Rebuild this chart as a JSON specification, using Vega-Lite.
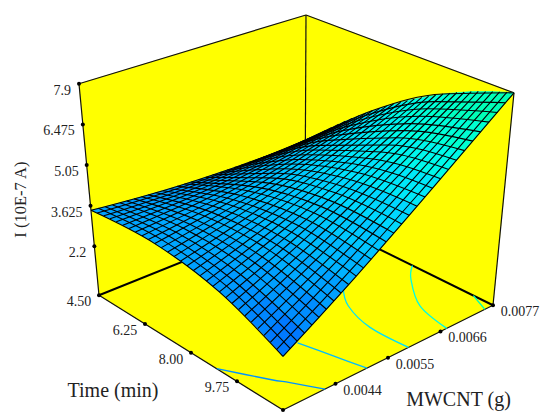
{"$schema":"https://vega.github.io/schema/vega-lite/v6.json","width":540,"height":413,"padding":0,"autosize":{"type":"fit","contains":"padding"},"background":"white","config":{"view":{"stroke":null}},
"datasets":{"cells":[
{"t":4.5,"m":0.0033,"I":[3.46,3.54,3.52,3.38]},{"t":5.2,"m":0.0033,"I":[3.54,3.58,3.61,3.52]},{"t":5.9,"m":0.0033,"I":[3.58,3.57,3.65,3.61]},{"t":6.6,"m":0.0033,"I":[3.57,3.51,3.65,3.65]},{"t":7.3,"m":0.0033,"I":[3.51,3.41,3.6,3.65]},{"t":8,"m":0.0033,"I":[3.41,3.26,3.5,3.6]},{"t":8.7,"m":0.0033,"I":[3.26,3.07,3.36,3.5]},{"t":9.4,"m":0.0033,"I":[3.07,2.83,3.17,3.36]},{"t":10.1,"m":0.0033,"I":[2.83,2.55,2.93,3.17]},{"t":10.8,"m":0.0033,"I":[2.55,2.22,2.65,2.93]},
{"t":4.5,"m":0.00374,"I":[3.38,3.52,3.51,3.32]},{"t":5.2,"m":0.00374,"I":[3.52,3.61,3.65,3.51]},{"t":5.9,"m":0.00374,"I":[3.61,3.65,3.75,3.65]},{"t":6.6,"m":0.00374,"I":[3.65,3.65,3.8,3.75]},{"t":7.3,"m":0.00374,"I":[3.65,3.6,3.8,3.8]},{"t":8,"m":0.00374,"I":[3.6,3.5,3.76,3.8]},{"t":8.7,"m":0.00374,"I":[3.5,3.36,3.67,3.76]},{"t":9.4,"m":0.00374,"I":[3.36,3.17,3.53,3.67]},{"t":10.1,"m":0.00374,"I":[3.17,2.93,3.34,3.53]},{"t":10.8,"m":0.00374,"I":[2.93,2.65,3.11,3.34]},
{"t":4.5,"m":0.00418,"I":[3.32,3.51,3.51,3.26]},{"t":5.2,"m":0.00418,"I":[3.51,3.65,3.71,3.51]},{"t":5.9,"m":0.00418,"I":[3.65,3.75,3.87,3.71]},{"t":6.6,"m":0.00418,"I":[3.75,3.8,3.97,3.87]},{"t":7.3,"m":0.00418,"I":[3.8,3.8,4.03,3.97]},{"t":8,"m":0.00418,"I":[3.8,3.76,4.04,4.03]},{"t":8.7,"m":0.00418,"I":[3.76,3.67,4.01,4.04]},{"t":9.4,"m":0.00418,"I":[3.67,3.53,3.92,4.01]},{"t":10.1,"m":0.00418,"I":[3.53,3.34,3.78,3.92]},{"t":10.8,"m":0.00418,"I":[3.34,3.11,3.6,3.78]},
{"t":4.5,"m":0.00462,"I":[3.26,3.51,3.52,3.21]},{"t":5.2,"m":0.00462,"I":[3.51,3.71,3.79,3.52]},{"t":5.9,"m":0.00462,"I":[3.71,3.87,4,3.79]},{"t":6.6,"m":0.00462,"I":[3.87,3.97,4.17,4]},{"t":7.3,"m":0.00462,"I":[3.97,4.03,4.28,4.17]},{"t":8,"m":0.00462,"I":[4.03,4.04,4.35,4.28]},{"t":8.7,"m":0.00462,"I":[4.04,4.01,4.37,4.35]},{"t":9.4,"m":0.00462,"I":[4.01,3.92,4.33,4.37]},{"t":10.1,"m":0.00462,"I":[3.92,3.78,4.25,4.33]},{"t":10.8,"m":0.00462,"I":[3.78,3.6,4.12,4.25]},
{"t":4.5,"m":0.00506,"I":[3.21,3.52,3.55,3.17]},{"t":5.2,"m":0.00506,"I":[3.52,3.79,3.88,3.55]},{"t":5.9,"m":0.00506,"I":[3.79,4,4.15,3.88]},{"t":6.6,"m":0.00506,"I":[4,4.17,4.38,4.15]},{"t":7.3,"m":0.00506,"I":[4.17,4.28,4.55,4.38]},{"t":8,"m":0.00506,"I":[4.28,4.35,4.68,4.55]},{"t":8.7,"m":0.00506,"I":[4.35,4.37,4.75,4.68]},{"t":9.4,"m":0.00506,"I":[4.37,4.33,4.78,4.75]},{"t":10.1,"m":0.00506,"I":[4.33,4.25,4.75,4.78]},{"t":10.8,"m":0.00506,"I":[4.25,4.12,4.67,4.75]},
{"t":4.5,"m":0.0055,"I":[3.17,3.55,3.59,3.15]},{"t":5.2,"m":0.0055,"I":[3.55,3.88,3.98,3.59]},{"t":5.9,"m":0.0055,"I":[3.88,4.15,4.32,3.98]},{"t":6.6,"m":0.0055,"I":[4.15,4.38,4.61,4.32]},{"t":7.3,"m":0.0055,"I":[4.38,4.55,4.84,4.61]},{"t":8,"m":0.0055,"I":[4.55,4.68,5.03,4.84]},{"t":8.7,"m":0.0055,"I":[4.68,4.75,5.16,5.03]},{"t":9.4,"m":0.0055,"I":[4.75,4.78,5.25,5.16]},{"t":10.1,"m":0.0055,"I":[4.78,4.75,5.28,5.25]},{"t":10.8,"m":0.0055,"I":[4.75,4.67,5.26,5.28]},
{"t":4.5,"m":0.00594,"I":[3.15,3.59,3.64,3.13]},{"t":5.2,"m":0.00594,"I":[3.59,3.98,4.1,3.64]},{"t":5.9,"m":0.00594,"I":[3.98,4.32,4.5,4.1]},{"t":6.6,"m":0.00594,"I":[4.32,4.61,4.86,4.5]},{"t":7.3,"m":0.00594,"I":[4.61,4.84,5.16,4.86]},{"t":8,"m":0.00594,"I":[4.84,5.03,5.4,5.16]},{"t":8.7,"m":0.00594,"I":[5.03,5.16,5.6,5.4]},{"t":9.4,"m":0.00594,"I":[5.16,5.25,5.74,5.6]},{"t":10.1,"m":0.00594,"I":[5.25,5.28,5.83,5.74]},{"t":10.8,"m":0.00594,"I":[5.28,5.26,5.87,5.83]},
{"t":4.5,"m":0.00638,"I":[3.13,3.64,3.71,3.13]},{"t":5.2,"m":0.00638,"I":[3.64,4.1,4.23,3.71]},{"t":5.9,"m":0.00638,"I":[4.1,4.5,4.7,4.23]},{"t":6.6,"m":0.00638,"I":[4.5,4.86,5.12,4.7]},{"t":7.3,"m":0.00638,"I":[4.86,5.16,5.49,5.12]},{"t":8,"m":0.00638,"I":[5.16,5.4,5.8,5.49]},{"t":8.7,"m":0.00638,"I":[5.4,5.6,6.06,5.8]},{"t":9.4,"m":0.00638,"I":[5.6,5.74,6.26,6.06]},{"t":10.1,"m":0.00638,"I":[5.74,5.83,6.42,6.26]},{"t":10.8,"m":0.00638,"I":[5.83,5.87,6.52,6.42]},
{"t":4.5,"m":0.00682,"I":[3.13,3.71,3.79,3.14]},{"t":5.2,"m":0.00682,"I":[3.71,4.23,4.38,3.79]},{"t":5.9,"m":0.00682,"I":[4.23,4.7,4.92,4.38]},{"t":6.6,"m":0.00682,"I":[4.7,5.12,5.41,4.92]},{"t":7.3,"m":0.00682,"I":[5.12,5.49,5.84,5.41]},{"t":8,"m":0.00682,"I":[5.49,5.8,6.22,5.84]},{"t":8.7,"m":0.00682,"I":[5.8,6.06,6.54,6.22]},{"t":9.4,"m":0.00682,"I":[6.06,6.26,6.81,6.54]},{"t":10.1,"m":0.00682,"I":[6.26,6.42,7.03,6.81]},{"t":10.8,"m":0.00682,"I":[6.42,6.52,7.19,7.03]},
{"t":4.5,"m":0.00726,"I":[3.14,3.79,3.87,3.15]},{"t":5.2,"m":0.00726,"I":[3.79,4.38,4.54,3.87]},{"t":5.9,"m":0.00726,"I":[4.38,4.92,5.15,4.54]},{"t":6.6,"m":0.00726,"I":[4.92,5.41,5.71,5.15]},{"t":7.3,"m":0.00726,"I":[5.41,5.84,6.21,5.71]},{"t":8,"m":0.00726,"I":[5.84,6.22,6.66,6.21]},{"t":8.7,"m":0.00726,"I":[6.22,6.54,7.05,6.66]},{"t":9.4,"m":0.00726,"I":[6.54,6.81,7.39,7.05]},{"t":10.1,"m":0.00726,"I":[6.81,7.03,7.67,7.39]},{"t":10.8,"m":0.00726,"I":[7.03,7.19,7.9,7.67]}
],
"rows":[
{"s":"w","k":1,"o":0,"t":4.5,"m":0.0033,"I":0.48},{"s":"w","k":1,"o":1,"t":11.5,"m":0.0033,"I":0.48},{"s":"w","k":1,"o":2,"t":11.5,"m":0.0077,"I":0.48},{"s":"w","k":1,"o":3,"t":4.5,"m":0.0077,"I":0.48},
{"s":"w","k":2,"o":0,"t":4.5,"m":0.0033,"I":0.48},{"s":"w","k":2,"o":1,"t":4.5,"m":0.0077,"I":0.48},{"s":"w","k":2,"o":2,"t":4.5,"m":0.0077,"I":7.9},{"s":"w","k":2,"o":3,"t":4.5,"m":0.0033,"I":7.9},
{"s":"w","k":3,"o":0,"t":4.5,"m":0.0077,"I":0.48},{"s":"w","k":3,"o":1,"t":11.5,"m":0.0077,"I":0.48},{"s":"w","k":3,"o":2,"t":11.5,"m":0.0077,"I":7.9},{"s":"w","k":3,"o":3,"t":4.5,"m":0.0077,"I":7.9},
{"s":"e","k":1,"o":0,"t":4.5,"m":0.0033,"I":7.9},{"s":"e","k":1,"o":1,"t":4.5,"m":0.0077,"I":7.9},
{"s":"e","k":2,"o":0,"t":4.5,"m":0.0077,"I":7.9},{"s":"e","k":2,"o":1,"t":11.5,"m":0.0077,"I":7.9},
{"s":"e","k":3,"o":0,"t":4.5,"m":0.0033,"I":7.9},{"s":"e","k":3,"o":1,"t":4.5,"m":0.0033,"I":0.48},
{"s":"e","k":4,"o":0,"t":11.5,"m":0.0077,"I":7.9},{"s":"e","k":4,"o":1,"t":11.5,"m":0.0077,"I":0.48},
{"s":"e","k":5,"o":0,"t":4.5,"m":0.0077,"I":7.9},{"s":"e","k":5,"o":1,"t":4.5,"m":0.0077,"I":0.48},
{"s":"e","k":6,"o":0,"t":4.5,"m":0.0033,"I":0.48},{"s":"e","k":6,"o":1,"t":11.5,"m":0.0033,"I":0.48},
{"s":"e","k":7,"o":0,"t":11.5,"m":0.0033,"I":0.48},{"s":"e","k":7,"o":1,"t":11.5,"m":0.0077,"I":0.48},
{"s":"E","k":1,"o":0,"t":4.5,"m":0.0033,"I":0.48},{"s":"E","k":1,"o":1,"t":4.5,"m":0.0077,"I":0.48},
{"s":"E","k":2,"o":0,"t":11.5,"m":0.0077,"I":0.48},{"s":"E","k":2,"o":1,"t":4.5,"m":0.0077,"I":0.48},
{"s":"c","k":1,"L":3.15,"o":0,"t":8.98,"m":0.0033,"I":0.48},{"s":"c","k":1,"L":3.15,"o":1,"t":10.24,"m":0.00373,"I":0.48},{"s":"c","k":1,"L":3.15,"o":2,"t":10.68,"m":0.0039,"I":0.48},{"s":"c","k":1,"L":3.15,"o":3,"t":11.5,"m":0.00418,"I":0.48},
{"s":"c","k":2,"L":4.2,"o":0,"t":9.4,"m":0.00477,"I":0.48},{"s":"c","k":2,"L":4.2,"o":1,"t":10.48,"m":0.00492,"I":0.48},{"s":"c","k":2,"L":4.2,"o":2,"t":11.5,"m":0.00506,"I":0.48},
{"s":"c","k":3,"L":5.3,"o":0,"t":8.14,"m":0.00644,"I":0.48},{"s":"c","k":3,"L":5.3,"o":1,"t":8.92,"m":0.00611,"I":0.48},{"s":"c","k":3,"L":5.3,"o":2,"t":10.09,"m":0.00591,"I":0.48},{"s":"c","k":3,"L":5.3,"o":3,"t":11.5,"m":0.00593,"I":0.48},
{"s":"c","k":4,"L":6.3,"o":0,"t":8.5,"m":0.0077,"I":0.48},{"s":"c","k":4,"L":6.3,"o":1,"t":9.01,"m":0.00738,"I":0.48},{"s":"c","k":4,"L":6.3,"o":2,"t":10.18,"m":0.00691,"I":0.48},{"s":"c","k":4,"L":6.3,"o":3,"t":11.5,"m":0.00673,"I":0.48},
{"s":"c","k":5,"L":7.4,"o":0,"t":10.77,"m":0.0077,"I":0.48},{"s":"c","k":5,"L":7.4,"o":1,"t":11.15,"m":0.00761,"I":0.48},{"s":"c","k":5,"L":7.4,"o":2,"t":11.5,"m":0.00753,"I":0.48},
{"s":"d","t":4.5,"m":0.0033,"I":7.9},{"s":"d","t":4.5,"m":0.0033,"I":6.475},{"s":"d","t":4.5,"m":0.0033,"I":5.05},{"s":"d","t":4.5,"m":0.0033,"I":3.625},{"s":"d","t":4.5,"m":0.0033,"I":2.2},{"s":"d","t":4.5,"m":0.0033,"I":0.48},{"s":"d","t":6.25,"m":0.0033,"I":0.48},{"s":"d","t":8,"m":0.0033,"I":0.48},{"s":"d","t":9.75,"m":0.0033,"I":0.48},{"s":"d","t":11.5,"m":0.0033,"I":0.48},{"s":"d","t":11.5,"m":0.0044,"I":0.48},{"s":"d","t":11.5,"m":0.0055,"I":0.48},{"s":"d","t":11.5,"m":0.0066,"I":0.48},{"s":"d","t":11.5,"m":0.0077,"I":0.48},
{"s":"li","t":4.5,"m":0.0033,"I":7.9,"a":"7.9"},{"s":"li","t":4.5,"m":0.0033,"I":6.475,"a":"6.475"},{"s":"li","t":4.5,"m":0.0033,"I":5.05,"a":"5.05"},{"s":"li","t":4.5,"m":0.0033,"I":3.625,"a":"3.625"},{"s":"li","t":4.5,"m":0.0033,"I":2.2,"a":"2.2"},
{"s":"lt","t":4.5,"m":0.0033,"I":0.48,"a":"4.50"},{"s":"lt","t":6.25,"m":0.0033,"I":0.48,"a":"6.25"},{"s":"lt","t":8,"m":0.0033,"I":0.48,"a":"8.00"},{"s":"lt","t":9.75,"m":0.0033,"I":0.48,"a":"9.75"},
{"s":"lm","t":11.5,"m":0.0044,"I":0.48,"a":"0.0044"},{"s":"lm","t":11.5,"m":0.0055,"I":0.48,"a":"0.0055"},{"s":"lm","t":11.5,"m":0.0066,"I":0.48,"a":"0.0066"},{"s":"lm","t":11.5,"m":0.0077,"I":0.48,"a":"0.0077"},
{"s":"ta","t":9.75,"m":0.0033,"I":0.48,"a":"Time (min)"},{"s":"tb","t":11.5,"m":0.0066,"I":0.48,"a":"MWCNT (g)"},{"s":"tc","t":4.5,"m":0.0033,"I":3.625,"a":"I (10E-7 A)"},
{"s":"T","t":4.5,"m":0.0033,"I":3.46},{"s":"T","t":4.5,"m":0.00477,"I":3.24},{"s":"T","t":4.5,"m":0.00623,"I":3.14},{"s":"T","t":4.5,"m":0.0077,"I":3.15},
{"s":"T","t":4.73,"m":0.0033,"I":3.49},{"s":"T","t":4.73,"m":0.00477,"I":3.34},{"s":"T","t":4.73,"m":0.00623,"I":3.3},{"s":"T","t":4.73,"m":0.0077,"I":3.4},
{"s":"T","t":4.97,"m":0.0033,"I":3.52},{"s":"T","t":4.97,"m":0.00477,"I":3.43},{"s":"T","t":4.97,"m":0.00623,"I":3.47},{"s":"T","t":4.97,"m":0.0077,"I":3.64},
{"s":"T","t":5.2,"m":0.0033,"I":3.54},{"s":"T","t":5.2,"m":0.00477,"I":3.51},{"s":"T","t":5.2,"m":0.00623,"I":3.62},{"s":"T","t":5.2,"m":0.0077,"I":3.87},
{"s":"T","t":5.43,"m":0.0033,"I":3.56},{"s":"T","t":5.43,"m":0.00477,"I":3.59},{"s":"T","t":5.43,"m":0.00623,"I":3.77},{"s":"T","t":5.43,"m":0.0077,"I":4.1},
{"s":"T","t":5.67,"m":0.0033,"I":3.57},{"s":"T","t":5.67,"m":0.00477,"I":3.67},{"s":"T","t":5.67,"m":0.00623,"I":3.92},{"s":"T","t":5.67,"m":0.0077,"I":4.33},
{"s":"T","t":5.9,"m":0.0033,"I":3.58},{"s":"T","t":5.9,"m":0.00477,"I":3.74},{"s":"T","t":5.9,"m":0.00623,"I":4.06},{"s":"T","t":5.9,"m":0.0077,"I":4.54},
{"s":"T","t":6.13,"m":0.0033,"I":3.58},{"s":"T","t":6.13,"m":0.00477,"I":3.8},{"s":"T","t":6.13,"m":0.00623,"I":4.19},{"s":"T","t":6.13,"m":0.0077,"I":4.75},
{"s":"T","t":6.37,"m":0.0033,"I":3.58},{"s":"T","t":6.37,"m":0.00477,"I":3.86},{"s":"T","t":6.37,"m":0.00623,"I":4.32},{"s":"T","t":6.37,"m":0.0077,"I":4.96},
{"s":"T","t":6.6,"m":0.0033,"I":3.57},{"s":"T","t":6.6,"m":0.00477,"I":3.91},{"s":"T","t":6.6,"m":0.00623,"I":4.44},{"s":"T","t":6.6,"m":0.0077,"I":5.15},
{"s":"T","t":6.83,"m":0.0033,"I":3.55},{"s":"T","t":6.83,"m":0.00477,"I":3.96},{"s":"T","t":6.83,"m":0.00623,"I":4.56},{"s":"T","t":6.83,"m":0.0077,"I":5.35},
{"s":"T","t":7.07,"m":0.0033,"I":3.54},{"s":"T","t":7.07,"m":0.00477,"I":4},{"s":"T","t":7.07,"m":0.00623,"I":4.67},{"s":"T","t":7.07,"m":0.0077,"I":5.53},
{"s":"T","t":7.3,"m":0.0033,"I":3.51},{"s":"T","t":7.3,"m":0.00477,"I":4.04},{"s":"T","t":7.3,"m":0.00623,"I":4.77},{"s":"T","t":7.3,"m":0.0077,"I":5.71},
{"s":"T","t":7.53,"m":0.0033,"I":3.48},{"s":"T","t":7.53,"m":0.00477,"I":4.07},{"s":"T","t":7.53,"m":0.00623,"I":4.87},{"s":"T","t":7.53,"m":0.0077,"I":5.89},
{"s":"T","t":7.77,"m":0.0033,"I":3.45},{"s":"T","t":7.77,"m":0.00477,"I":4.09},{"s":"T","t":7.77,"m":0.00623,"I":4.96},{"s":"T","t":7.77,"m":0.0077,"I":6.05},
{"s":"T","t":8,"m":0.0033,"I":3.41},{"s":"T","t":8,"m":0.00477,"I":4.11},{"s":"T","t":8,"m":0.00623,"I":5.05},{"s":"T","t":8,"m":0.0077,"I":6.21},
{"s":"T","t":8.23,"m":0.0033,"I":3.37},{"s":"T","t":8.23,"m":0.00477,"I":4.13},{"s":"T","t":8.23,"m":0.00623,"I":5.13},{"s":"T","t":8.23,"m":0.0077,"I":6.37},
{"s":"T","t":8.47,"m":0.0033,"I":3.32},{"s":"T","t":8.47,"m":0.00477,"I":4.14},{"s":"T","t":8.47,"m":0.00623,"I":5.21},{"s":"T","t":8.47,"m":0.0077,"I":6.52},
{"s":"T","t":8.7,"m":0.0033,"I":3.26},{"s":"T","t":8.7,"m":0.00477,"I":4.14},{"s":"T","t":8.7,"m":0.00623,"I":5.28},{"s":"T","t":8.7,"m":0.0077,"I":6.66},
{"s":"T","t":8.93,"m":0.0033,"I":3.2},{"s":"T","t":8.93,"m":0.00477,"I":4.14},{"s":"T","t":8.93,"m":0.00623,"I":5.34},{"s":"T","t":8.93,"m":0.0077,"I":6.8},
{"s":"T","t":9.17,"m":0.0033,"I":3.14},{"s":"T","t":9.17,"m":0.00477,"I":4.13},{"s":"T","t":9.17,"m":0.00623,"I":5.4},{"s":"T","t":9.17,"m":0.0077,"I":6.93},
{"s":"T","t":9.4,"m":0.0033,"I":3.07},{"s":"T","t":9.4,"m":0.00477,"I":4.12},{"s":"T","t":9.4,"m":0.00623,"I":5.45},{"s":"T","t":9.4,"m":0.0077,"I":7.05},
{"s":"T","t":9.63,"m":0.0033,"I":3},{"s":"T","t":9.63,"m":0.00477,"I":4.11},{"s":"T","t":9.63,"m":0.00623,"I":5.5},{"s":"T","t":9.63,"m":0.0077,"I":7.17},
{"s":"T","t":9.87,"m":0.0033,"I":2.92},{"s":"T","t":9.87,"m":0.00477,"I":4.08},{"s":"T","t":9.87,"m":0.00623,"I":5.54},{"s":"T","t":9.87,"m":0.0077,"I":7.28},
{"s":"T","t":10.1,"m":0.0033,"I":2.83},{"s":"T","t":10.1,"m":0.00477,"I":4.05},{"s":"T","t":10.1,"m":0.00623,"I":5.57},{"s":"T","t":10.1,"m":0.0077,"I":7.39},
{"s":"T","t":10.33,"m":0.0033,"I":2.74},{"s":"T","t":10.33,"m":0.00477,"I":4.02},{"s":"T","t":10.33,"m":0.00623,"I":5.6},{"s":"T","t":10.33,"m":0.0077,"I":7.49},
{"s":"T","t":10.57,"m":0.0033,"I":2.65},{"s":"T","t":10.57,"m":0.00477,"I":3.98},{"s":"T","t":10.57,"m":0.00623,"I":5.63},{"s":"T","t":10.57,"m":0.0077,"I":7.58},
{"s":"T","t":10.8,"m":0.0033,"I":2.55},{"s":"T","t":10.8,"m":0.00477,"I":3.94},{"s":"T","t":10.8,"m":0.00623,"I":5.64},{"s":"T","t":10.8,"m":0.0077,"I":7.67},
{"s":"T","t":11.03,"m":0.0033,"I":2.44},{"s":"T","t":11.03,"m":0.00477,"I":3.89},{"s":"T","t":11.03,"m":0.00623,"I":5.66},{"s":"T","t":11.03,"m":0.0077,"I":7.75},
{"s":"T","t":11.27,"m":0.0033,"I":2.33},{"s":"T","t":11.27,"m":0.00477,"I":3.83},{"s":"T","t":11.27,"m":0.00623,"I":5.66},{"s":"T","t":11.27,"m":0.0077,"I":7.83},
{"s":"T","t":11.5,"m":0.0033,"I":2.22},{"s":"T","t":11.5,"m":0.00477,"I":3.77},{"s":"T","t":11.5,"m":0.00623,"I":5.66},{"s":"T","t":11.5,"m":0.0077,"I":7.9},
{"s":"M","m":0.0033,"t":4.5,"I":3.46},{"s":"M","m":0.0033,"t":6.83,"I":3.55},{"s":"M","m":0.0033,"t":9.17,"I":3.14},{"s":"M","m":0.0033,"t":11.5,"I":2.22},
{"s":"M","m":0.00345,"t":4.5,"I":3.44},{"s":"M","m":0.00345,"t":6.83,"I":3.58},{"s":"M","m":0.00345,"t":9.17,"I":3.23},{"s":"M","m":0.00345,"t":11.5,"I":2.36},
{"s":"M","m":0.00359,"t":4.5,"I":3.41},{"s":"M","m":0.00359,"t":6.83,"I":3.62},{"s":"M","m":0.00359,"t":9.17,"I":3.32},{"s":"M","m":0.00359,"t":11.5,"I":2.5},
{"s":"M","m":0.00374,"t":4.5,"I":3.38},{"s":"M","m":0.00374,"t":6.83,"I":3.65},{"s":"M","m":0.00374,"t":9.17,"I":3.41},{"s":"M","m":0.00374,"t":11.5,"I":2.65},
{"s":"M","m":0.00389,"t":4.5,"I":3.36},{"s":"M","m":0.00389,"t":6.83,"I":3.69},{"s":"M","m":0.00389,"t":9.17,"I":3.51},{"s":"M","m":0.00389,"t":11.5,"I":2.8},
{"s":"M","m":0.00403,"t":4.5,"I":3.34},{"s":"M","m":0.00403,"t":6.83,"I":3.73},{"s":"M","m":0.00403,"t":9.17,"I":3.6},{"s":"M","m":0.00403,"t":11.5,"I":2.95},
{"s":"M","m":0.00418,"t":4.5,"I":3.32},{"s":"M","m":0.00418,"t":6.83,"I":3.77},{"s":"M","m":0.00418,"t":9.17,"I":3.7},{"s":"M","m":0.00418,"t":11.5,"I":3.11},
{"s":"M","m":0.00433,"t":4.5,"I":3.3},{"s":"M","m":0.00433,"t":6.83,"I":3.82},{"s":"M","m":0.00433,"t":9.17,"I":3.81},{"s":"M","m":0.00433,"t":11.5,"I":3.27},
{"s":"M","m":0.00447,"t":4.5,"I":3.28},{"s":"M","m":0.00447,"t":6.83,"I":3.86},{"s":"M","m":0.00447,"t":9.17,"I":3.91},{"s":"M","m":0.00447,"t":11.5,"I":3.43},
{"s":"M","m":0.00462,"t":4.5,"I":3.26},{"s":"M","m":0.00462,"t":6.83,"I":3.91},{"s":"M","m":0.00462,"t":9.17,"I":4.02},{"s":"M","m":0.00462,"t":11.5,"I":3.6},
{"s":"M","m":0.00477,"t":4.5,"I":3.24},{"s":"M","m":0.00477,"t":6.83,"I":3.96},{"s":"M","m":0.00477,"t":9.17,"I":4.13},{"s":"M","m":0.00477,"t":11.5,"I":3.77},
{"s":"M","m":0.00491,"t":4.5,"I":3.22},{"s":"M","m":0.00491,"t":6.83,"I":4.01},{"s":"M","m":0.00491,"t":9.17,"I":4.25},{"s":"M","m":0.00491,"t":11.5,"I":3.94},
{"s":"M","m":0.00506,"t":4.5,"I":3.21},{"s":"M","m":0.00506,"t":6.83,"I":4.06},{"s":"M","m":0.00506,"t":9.17,"I":4.37},{"s":"M","m":0.00506,"t":11.5,"I":4.12},
{"s":"M","m":0.00521,"t":4.5,"I":3.2},{"s":"M","m":0.00521,"t":6.83,"I":4.12},{"s":"M","m":0.00521,"t":9.17,"I":4.49},{"s":"M","m":0.00521,"t":11.5,"I":4.3},
{"s":"M","m":0.00535,"t":4.5,"I":3.18},{"s":"M","m":0.00535,"t":6.83,"I":4.17},{"s":"M","m":0.00535,"t":9.17,"I":4.61},{"s":"M","m":0.00535,"t":11.5,"I":4.49},
{"s":"M","m":0.0055,"t":4.5,"I":3.17},{"s":"M","m":0.0055,"t":6.83,"I":4.23},{"s":"M","m":0.0055,"t":9.17,"I":4.73},{"s":"M","m":0.0055,"t":11.5,"I":4.67},
{"s":"M","m":0.00565,"t":4.5,"I":3.16},{"s":"M","m":0.00565,"t":6.83,"I":4.29},{"s":"M","m":0.00565,"t":9.17,"I":4.86},{"s":"M","m":0.00565,"t":11.5,"I":4.87},
{"s":"M","m":0.00579,"t":4.5,"I":3.16},{"s":"M","m":0.00579,"t":6.83,"I":4.36},{"s":"M","m":0.00579,"t":9.17,"I":4.99},{"s":"M","m":0.00579,"t":11.5,"I":5.06},
{"s":"M","m":0.00594,"t":4.5,"I":3.15},{"s":"M","m":0.00594,"t":6.83,"I":4.42},{"s":"M","m":0.00594,"t":9.17,"I":5.12},{"s":"M","m":0.00594,"t":11.5,"I":5.26},
{"s":"M","m":0.00609,"t":4.5,"I":3.14},{"s":"M","m":0.00609,"t":6.83,"I":4.49},{"s":"M","m":0.00609,"t":9.17,"I":5.26},{"s":"M","m":0.00609,"t":11.5,"I":5.46},
{"s":"M","m":0.00623,"t":4.5,"I":3.14},{"s":"M","m":0.00623,"t":6.83,"I":4.56},{"s":"M","m":0.00623,"t":9.17,"I":5.4},{"s":"M","m":0.00623,"t":11.5,"I":5.66},
{"s":"M","m":0.00638,"t":4.5,"I":3.13},{"s":"M","m":0.00638,"t":6.83,"I":4.63},{"s":"M","m":0.00638,"t":9.17,"I":5.54},{"s":"M","m":0.00638,"t":11.5,"I":5.87},
{"s":"M","m":0.00653,"t":4.5,"I":3.13},{"s":"M","m":0.00653,"t":6.83,"I":4.7},{"s":"M","m":0.00653,"t":9.17,"I":5.68},{"s":"M","m":0.00653,"t":11.5,"I":6.08},
{"s":"M","m":0.00667,"t":4.5,"I":3.13},{"s":"M","m":0.00667,"t":6.83,"I":4.77},{"s":"M","m":0.00667,"t":9.17,"I":5.83},{"s":"M","m":0.00667,"t":11.5,"I":6.3},
{"s":"M","m":0.00682,"t":4.5,"I":3.13},{"s":"M","m":0.00682,"t":6.83,"I":4.85},{"s":"M","m":0.00682,"t":9.17,"I":5.98},{"s":"M","m":0.00682,"t":11.5,"I":6.52},
{"s":"M","m":0.00697,"t":4.5,"I":3.13},{"s":"M","m":0.00697,"t":6.83,"I":4.93},{"s":"M","m":0.00697,"t":9.17,"I":6.13},{"s":"M","m":0.00697,"t":11.5,"I":6.74},
{"s":"M","m":0.00711,"t":4.5,"I":3.13},{"s":"M","m":0.00711,"t":6.83,"I":5.01},{"s":"M","m":0.00711,"t":9.17,"I":6.28},{"s":"M","m":0.00711,"t":11.5,"I":6.96},
{"s":"M","m":0.00726,"t":4.5,"I":3.14},{"s":"M","m":0.00726,"t":6.83,"I":5.09},{"s":"M","m":0.00726,"t":9.17,"I":6.44},{"s":"M","m":0.00726,"t":11.5,"I":7.19},
{"s":"M","m":0.00741,"t":4.5,"I":3.14},{"s":"M","m":0.00741,"t":6.83,"I":5.17},{"s":"M","m":0.00741,"t":9.17,"I":6.6},{"s":"M","m":0.00741,"t":11.5,"I":7.42},
{"s":"M","m":0.00755,"t":4.5,"I":3.14},{"s":"M","m":0.00755,"t":6.83,"I":5.26},{"s":"M","m":0.00755,"t":9.17,"I":6.76},{"s":"M","m":0.00755,"t":11.5,"I":7.66},
{"s":"M","m":0.0077,"t":4.5,"I":3.15},{"s":"M","m":0.0077,"t":6.83,"I":5.35},{"s":"M","m":0.0077,"t":9.17,"I":6.93},{"s":"M","m":0.0077,"t":11.5,"I":7.9}
]},
"data":{"name":"rows"},
"transform":[
{"calculate":"(datum.t-4.5)/7","as":"u"},{"calculate":"(datum.m-0.0033)/0.0044","as":"v"},{"calculate":"(datum.I-0.48)/7.42","as":"w"},
{"calculate":"99+184*datum.u+206*datum.v+4*datum.u*datum.v","as":"fx"},{"calculate":"296+115*datum.u-83*datum.v-22*datum.u*datum.v","as":"fy"},
{"calculate":"79+204*datum.u+227*datum.v+4*datum.u*datum.v","as":"tx"},{"calculate":"84+98*datum.u-69*datum.v-20*datum.u*datum.v","as":"ty"},
{"calculate":"datum.fx+datum.w*(datum.tx-datum.fx)","as":"px"},{"calculate":"datum.fy+datum.w*(datum.ty-datum.fy)","as":"py"}],
"encoding":{"x":{"field":"px","type":"quantitative","axis":null,"scale":{"domain":[0,540],"nice":false,"zero":false}},"y":{"field":"py","type":"quantitative","axis":null,"scale":{"domain":[413,0],"nice":false,"zero":false}}},
"layer":[
{"transform":[{"filter":"datum.s==='w'"}],"mark":{"type":"line","interpolate":"linear-closed","fill":"#ffff00","stroke":"#ffff00","strokeWidth":0.5},"encoding":{"detail":{"field":"k"},"order":{"field":"o","type":"quantitative"}}},
{"transform":[{"filter":"datum.s==='e'"}],"mark":{"type":"line","color":"#111111","strokeWidth":1.2},"encoding":{"detail":{"field":"k"},"order":{"field":"o","type":"quantitative"}}},
{"transform":[{"filter":"datum.s==='E'"}],"mark":{"type":"line","color":"#000000","strokeWidth":2},"encoding":{"detail":{"field":"k"},"order":{"field":"o","type":"quantitative"}}},
{"transform":[{"filter":"datum.s==='c'"}],"mark":{"type":"line","interpolate":"cardinal","strokeWidth":1.3},"encoding":{"detail":{"field":"k"},"order":{"field":"o","type":"quantitative"},"stroke":{"field":"L","type":"quantitative","legend":null,"scale":{"domain":[2.2,3.45,5,6.4,7.9],"range":["#0064ff","#00a0ff","#00d8ff","#00ffe0","#00ffa0"]}}}},
{"data":{"name":"cells"},"transform":[
{"calculate":"datum.t+'_'+datum.m","as":"id"},{"calculate":"(datum.I[0]+datum.I[1]+datum.I[2]+datum.I[3])/4","as":"c"},
{"calculate":"[0,1,1,0]","as":"da"},{"calculate":"[0,0,1,1]","as":"db"},{"calculate":"[0,1,2,3]","as":"o"},{"flatten":["I","da","db","o"]},
{"calculate":"datum.t+0.7*datum.da","as":"t"},{"calculate":"datum.m+0.00044*datum.db","as":"m"},
{"calculate":"(datum.t-4.5)/7","as":"u"},{"calculate":"(datum.m-0.0033)/0.0044","as":"v"},{"calculate":"(datum.I-0.48)/7.42","as":"w"},
{"calculate":"99+184*datum.u+206*datum.v+4*datum.u*datum.v","as":"fx"},{"calculate":"296+115*datum.u-83*datum.v-22*datum.u*datum.v","as":"fy"},
{"calculate":"79+204*datum.u+227*datum.v+4*datum.u*datum.v","as":"tx"},{"calculate":"84+98*datum.u-69*datum.v-20*datum.u*datum.v","as":"ty"},
{"calculate":"datum.fx+datum.w*(datum.tx-datum.fx)","as":"px"},{"calculate":"datum.fy+datum.w*(datum.ty-datum.fy)","as":"py"}],
"mark":{"type":"line","interpolate":"linear-closed","strokeWidth":0.6},"encoding":{"detail":{"field":"id"},"order":{"field":"o","type":"quantitative"},
"fill":{"field":"c","type":"quantitative","legend":null,"scale":{"domain":[2.2,3.45,5,6.4,7.9],"range":["#0064ff","#00a0ff","#00d8ff","#00ffe0","#00ffa0"]}},
"stroke":{"field":"c","type":"quantitative","legend":null,"scale":{"domain":[2.2,3.45,5,6.4,7.9],"range":["#0064ff","#00a0ff","#00d8ff","#00ffe0","#00ffa0"]}}}},
{"transform":[{"filter":"datum.s==='T'"}],"mark":{"type":"line","interpolate":"monotone","color":"#000000","strokeWidth":1.1},"encoding":{"detail":{"field":"t"},"order":{"field":"m","type":"quantitative"}}},
{"transform":[{"filter":"datum.s==='M'"}],"mark":{"type":"line","interpolate":"monotone","color":"#000000","strokeWidth":1.1},"encoding":{"detail":{"field":"m"},"order":{"field":"t","type":"quantitative"}}},
{"transform":[{"filter":"datum.s==='d'"}],"mark":{"type":"circle","color":"#000000","size":16,"opacity":1}},
{"transform":[{"filter":"datum.s==='li'"}],"mark":{"type":"text","font":"Liberation Serif","fontSize":14,"color":"#222222","align":"right","dx":-8,"dy":7},"encoding":{"text":{"field":"a"}}},
{"transform":[{"filter":"datum.s==='lt'"}],"mark":{"type":"text","font":"Liberation Serif","fontSize":14,"color":"#222222","align":"center","dx":-20,"dy":7},"encoding":{"text":{"field":"a"}}},
{"transform":[{"filter":"datum.s==='lm'"}],"mark":{"type":"text","font":"Liberation Serif","fontSize":14,"color":"#222222","align":"center","dx":27,"dy":7},"encoding":{"text":{"field":"a"}}},
{"transform":[{"filter":"datum.s==='ta'"}],"mark":{"type":"text","font":"Liberation Serif","fontSize":20,"color":"#222222","align":"center","dx":-124,"dy":10},"encoding":{"text":{"field":"a"}}},
{"transform":[{"filter":"datum.s==='tb'"}],"mark":{"type":"text","font":"Liberation Serif","fontSize":20,"color":"#222222","align":"center","dx":18,"dy":69},"encoding":{"text":{"field":"a"}}},
{"transform":[{"filter":"datum.s==='tc'"}],"mark":{"type":"text","font":"Liberation Serif","fontSize":16.5,"color":"#222222","align":"center","angle":270,"dx":6,"dy":-70},"encoding":{"text":{"field":"a"}}}
]}
